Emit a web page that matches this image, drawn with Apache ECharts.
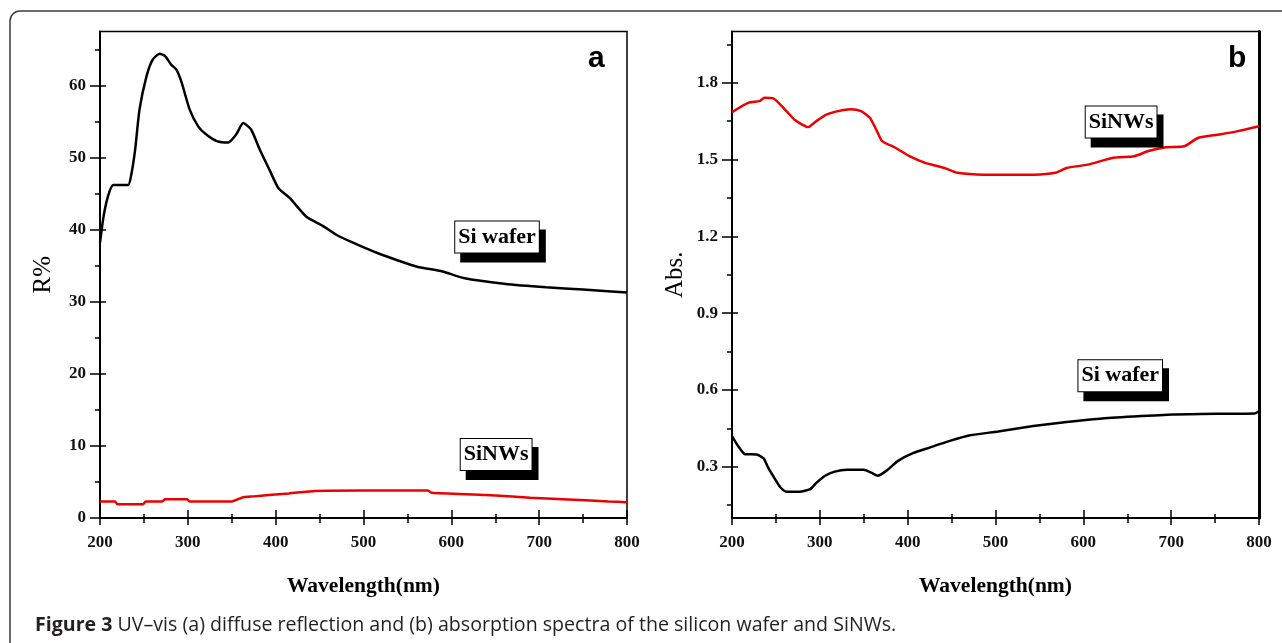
<!DOCTYPE html>
<html>
<head>
<meta charset="utf-8">
<script src="https://cdn.jsdelivr.net/npm/echarts@6/dist/echarts.min.js"></script>
<style>
html, body { margin: 0; padding: 0; background: #fff; }
#chart-container { width: 1282px; height: 643px; }
</style>
</head>
<body>
<div id="chart-container"></div>
<script>
// tick values for both panels
var wavelengthTicks = [200, 300, 400, 500, 600, 700, 800];
var wavelengthMinor = [250, 350, 450, 550, 650, 750];
var reflTicks = [0, 10, 20, 30, 40, 50, 60];
var reflMinor = [5, 15, 25, 35, 45, 55, 65];
var absTicks = [0.3, 0.6, 0.9, 1.2, 1.5, 1.8];
var absMinor = [0.15, 0.45, 0.75, 1.05, 1.35, 1.65, 1.95];

// (a) diffuse reflection, R%  [wavelength nm, value]
var waferRefl = [
	[200, 38.2], [204, 41.8], [209, 44.6], [215, 46.2], [232, 46.2], [236, 47.9], [240, 51.1],
	[245, 56.7], [253, 61.3], [260, 63.6], [268, 64.4], [274, 64.1], [281, 62.9], [287, 62.2],
	[293, 60.4], [302, 56.7], [312, 54.3], [321, 53.2], [333, 52.3], [346, 52.1], [355, 53.2],
	[363, 54.8], [372, 53.9], [382, 51.1], [393, 48.3], [403, 45.8], [416, 44.4], [435, 41.8],
	[454, 40.5], [469, 39.3], [488, 38.2], [515, 36.8], [540, 35.7], [560, 34.9], [590, 34.2],
	[614, 33.3], [660, 32.5], [708, 32.0], [750, 31.7], [800, 31.3]
];
var nwRefl = [
	[200, 2.3], [217, 2.3], [220, 1.9], [249, 1.9], [252, 2.3], [271, 2.3], [274, 2.6], [299, 2.6],
	[302, 2.3], [350, 2.3], [357, 2.6], [364, 2.9], [375, 3.0], [392, 3.2], [415, 3.4], [445, 3.75],
	[500, 3.8], [573, 3.8], [578, 3.5], [640, 3.2], [690, 2.8], [727, 2.6], [779, 2.3], [800, 2.2]
];

// (b) absorption, Abs.
var nwAbs = [
	[200, 1.685], [219, 1.722], [231, 1.728], [237, 1.741], [247, 1.739], [262, 1.689], [272, 1.653],
	[287, 1.627], [296, 1.65], [308, 1.676], [321, 1.689], [335, 1.696], [347, 1.689], [357, 1.663],
	[365, 1.611], [371, 1.572], [386, 1.546], [402, 1.513], [420, 1.487], [442, 1.467], [457, 1.448],
	[487, 1.441], [544, 1.441], [568, 1.448], [581, 1.467], [605, 1.480], [634, 1.507], [658, 1.513],
	[674, 1.533], [694, 1.548], [715, 1.552], [731, 1.585], [755, 1.598], [776, 1.611], [800, 1.630]
];
var waferAbs = [
	[200, 0.42], [207, 0.381], [215, 0.349], [228, 0.348], [236, 0.333], [241, 0.298], [249, 0.252],
	[255, 0.220], [262, 0.203], [277, 0.203], [289, 0.213], [296, 0.237], [306, 0.265], [317, 0.281],
	[331, 0.288], [350, 0.288], [359, 0.276], [366, 0.265], [376, 0.285], [389, 0.323], [406, 0.353],
	[425, 0.375], [448, 0.401], [471, 0.423], [503, 0.438], [543, 0.459], [581, 0.475], [619, 0.488],
	[657, 0.496], [702, 0.504], [752, 0.507], [795, 0.508], [800, 0.517]
];

// where the boxed curve names sit, in data units
var tagWaferRefl = [652, 39];
var tagNwRefl = [651, 8.8];
var tagNwAbs = [643, 1.647];
var tagWaferAbs = [642, 0.656];

var serif = 'Liberation Serif';
var dom = document.getElementById('chart-container');
var myChart = echarts.init(dom, null, { renderer: 'canvas' });

var tickFont = { fontFamily: serif, fontWeight: 'bold', fontSize: 17, color: '#111' };

// one axis that only draws a set of ticks; stacked to get ticks crossing the axis line
function tickAxis(kind, grid, range, values, len, inside, extra) {
	var ax = {
		type: 'value',
		gridIndex: grid,
		min: range[0],
		max: range[1],
		position: kind === 'x' ? 'bottom' : 'left',
		axisLine: { show: false },
		axisLabel: { show: false },
		splitLine: { show: false },
		axisTick: {
			show: true,
			inside: inside,
			length: len,
			customValues: values,
			lineStyle: { color: '#000', width: 1.5 }
		}
	};
	return Object.assign(ax, extra || {});
}

function xAxesFor(grid) {
	var r = [200, 800];
	return [
		tickAxis('x', grid, r, wavelengthTicks, 7, false, {
			axisLine: { show: true, onZero: false, lineStyle: { color: '#000', width: 2 } },
			axisLabel: Object.assign({ show: true, margin: 16, customValues: wavelengthTicks }, tickFont),
			name: 'Wavelength(nm)',
			nameLocation: 'middle',
			nameGap: 57,
			nameTextStyle: { fontFamily: serif, fontWeight: 'bold', fontSize: 21.5, color: '#000' }
		}),
		tickAxis('x', grid, r, wavelengthTicks, 8, true),
		tickAxis('x', grid, r, wavelengthMinor, 5, false),
		tickAxis('x', grid, r, wavelengthMinor, 4, true)
	];
}

function yAxesFor(grid, r, major, minor, name, fmt) {
	return [
		tickAxis('y', grid, r, major, 10, false, {
			axisLine: { show: true, onZero: false, lineStyle: { color: '#000', width: 2 } },
			axisLabel: Object.assign({ show: true, margin: 14, customValues: major, formatter: fmt }, tickFont),
			name: name,
			nameLocation: 'middle',
			nameRotate: 90,
			nameGap: 44,
			nameTextStyle: { fontFamily: serif, fontSize: 25, color: '#000' }
		}),
		tickAxis('y', grid, r, major, 6, true),
		tickAxis('y', grid, r, minor, 5, false)
	];
}

var yAxes = yAxesFor(0, [0, 67.5], reflTicks, reflMinor, 'R%', function (v) { return String(v); })
	.concat(yAxesFor(1, [0.1, 2.0], absTicks, absMinor, 'Abs.', function (v) { return v.toFixed(1); }));
// heavier right-hand frame line of panel b
yAxes.push({
	type: 'value', gridIndex: 1, min: 0.1, max: 2.0, position: 'right',
	axisLine: { show: true, lineStyle: { color: '#000', width: 3 } },
	axisTick: { show: false }, axisLabel: { show: false }, splitLine: { show: false }
});

function tag(name, coord) {
	return {
		symbol: 'rect',
		symbolSize: 1,
		silent: true,
		itemStyle: { color: 'rgba(0,0,0,0)' },
		label: {
			show: true,
			position: 'inside',
			formatter: '{b}',
			fontFamily: serif,
			fontWeight: 'bold',
			fontSize: 22,
			lineHeight: 26,
			color: '#000',
			backgroundColor: '#fff',
			borderColor: '#000',
			borderWidth: 1,
			padding: [3, 3, 2, 3],
			shadowColor: '#000',
			shadowOffsetX: 6,
			shadowOffsetY: 9,
			shadowBlur: 0
		},
		data: [{ name: name, coord: coord }]
	};
}

function curve(name, data, color, xi, yi, tagCoord) {
	return {
		name: name,
		type: 'line',
		xAxisIndex: xi,
		yAxisIndex: yi,
		data: data,
		showSymbol: false,
		smooth: 0.2,
		lineStyle: { color: color, width: 2.5 },
		itemStyle: { color: color },
		markPoint: tag(name, tagCoord),
		z: 3
	};
}

var option = {
	animation: false,
	backgroundColor: '#fff',
	title: [
		{
			text: '{b|Figure 3} UV–vis (a) diffuse reflection and (b) absorption spectra of the silicon wafer and SiNWs.',
			left: 35,
			top: 615,
			padding: 0,
			textStyle: {
				fontFamily: 'Open Sans',
				fontSize: 19.6,
				fontWeight: 'normal',
				color: '#231f20',
				rich: {
					b: { fontFamily: 'Open Sans', fontSize: 19.6, fontWeight: 'bold', color: '#231f20' }
				}
			}
		},
		{
			text: 'a', left: 588, top: 44, padding: 0,
			textStyle: { fontFamily: 'Liberation Sans', fontWeight: 'bold', fontSize: 30, color: '#000' }
		},
		{
			text: 'b', left: 1228, top: 44, padding: 0,
			textStyle: { fontFamily: 'Liberation Sans', fontWeight: 'bold', fontSize: 30, color: '#000' }
		}
	],
	graphic: [
		{
			type: 'rect',
			silent: true,
			z: -1,
			shape: { x: 10, y: 11, width: 1320, height: 700, r: 10 },
			style: { fill: 'none', stroke: '#3a3a3a', lineWidth: 1.5 }
		}
	],
	grid: [
		{ left: 100, right: 655, top: 31.5, bottom: 125, show: true, borderColor: '#000', borderWidth: 1.5 },
		{ left: 732, right: 23, top: 31.5, bottom: 125, show: true, borderColor: '#000', borderWidth: 1.5 }
	],
	xAxis: xAxesFor(0).concat(xAxesFor(1)),
	yAxis: yAxes,
	series: [
		curve('Si wafer', waferRefl, '#000', 0, 0, tagWaferRefl),
		curve('SiNWs', nwRefl, '#ee0000', 0, 0, tagNwRefl),
		curve('SiNWs', nwAbs, '#ee0000', 4, 3, tagNwAbs),
		curve('Si wafer', waferAbs, '#000', 4, 3, tagWaferAbs)
	]
};

myChart.setOption(option);
window.addEventListener('resize', myChart.resize);
</script>
</body>
</html>
